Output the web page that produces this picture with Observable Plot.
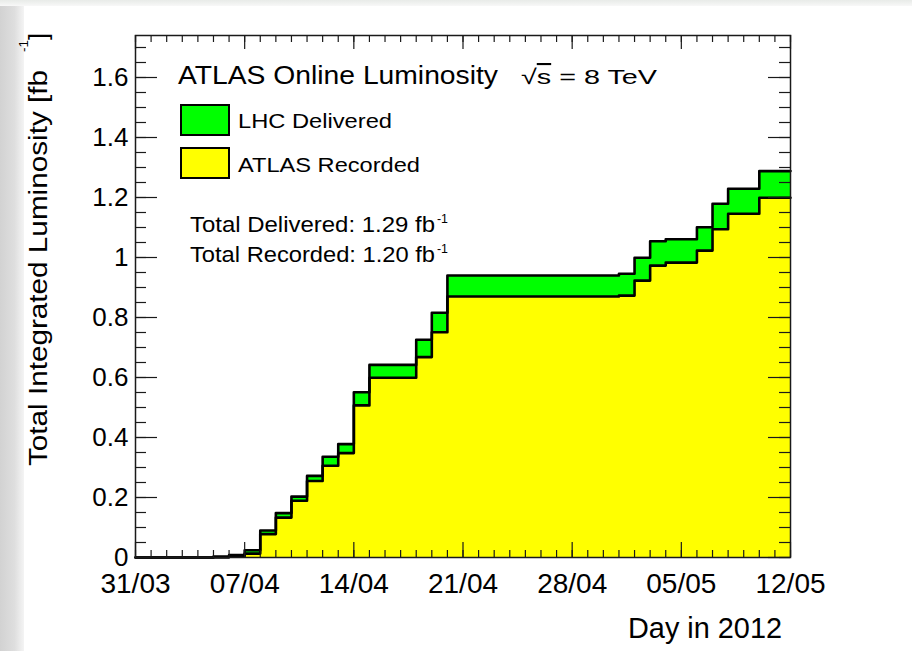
<!DOCTYPE html>
<html><head><meta charset="utf-8">
<script src="https://cdn.jsdelivr.net/npm/d3@7"></script>
<script src="https://cdn.jsdelivr.net/npm/@observablehq/plot@0.6"></script>
<style>
html,body{margin:0;padding:0;background:#fff;}
#wrap{position:relative;width:912px;height:651px;overflow:hidden;font-family:"Liberation Sans",Arial,sans-serif;}
#bgl{position:absolute;left:0;top:0;width:24px;height:651px;background:linear-gradient(to right,#d2d2d2,#dedede 60%,#f4f4f4);}
#bgt{position:absolute;left:0;top:0;width:912px;height:6px;background:linear-gradient(to bottom,#e8ebe8,#f8f8f8);}
#chart{position:absolute;left:0;top:0;}
#ann{position:absolute;left:0;top:0;}
</style></head><body>
<div id="wrap"><div id="bgl"></div><div id="bgt"></div><div id="chart"></div><svg id="ann" width="912" height="651"></svg></div>
<script>
// ---- data (one bin per day, starting 31/03/2012) ----
const days = [
  "2012-03-31","2012-04-01","2012-04-02","2012-04-03","2012-04-04","2012-04-05","2012-04-06",
  "2012-04-07","2012-04-08","2012-04-09","2012-04-10","2012-04-11","2012-04-12","2012-04-13",
  "2012-04-14","2012-04-15","2012-04-16","2012-04-17","2012-04-18","2012-04-19","2012-04-20",
  "2012-04-21","2012-04-22","2012-04-23","2012-04-24","2012-04-25","2012-04-26","2012-04-27",
  "2012-04-28","2012-04-29","2012-04-30","2012-05-01","2012-05-02","2012-05-03","2012-05-04",
  "2012-05-05","2012-05-06","2012-05-07","2012-05-08","2012-05-09","2012-05-10","2012-05-11"
];
const endDate = "2012-05-12";
const delivered = [
  0, 0, 0, 0, 0, 0.003, 0.008,
  0.024, 0.090, 0.148, 0.203, 0.272, 0.336, 0.378,
  0.551, 0.642, 0.642, 0.642, 0.726, 0.816, 0.940,
  0.940, 0.940, 0.940, 0.940, 0.940, 0.940, 0.940,
  0.940, 0.940, 0.940, 0.946, 0.999, 1.054, 1.061,
  1.061, 1.101, 1.179, 1.229, 1.229, 1.288, 1.288
];
const recorded = [
  0, 0, 0, 0, 0, 0.0005, 0.004,
  0.013, 0.078, 0.133, 0.189, 0.255, 0.306, 0.348,
  0.507, 0.599, 0.599, 0.599, 0.668, 0.751, 0.870,
  0.870, 0.870, 0.870, 0.870, 0.870, 0.870, 0.870,
  0.870, 0.870, 0.870, 0.873, 0.923, 0.973, 0.983,
  0.983, 1.023, 1.094, 1.146, 1.146, 1.199, 1.199
];
const weekTicks = ["2012-03-31","2012-04-07","2012-04-14","2012-04-21","2012-04-28","2012-05-05","2012-05-12"];
const yTicks = [0, 0.2, 0.4, 0.6, 0.8, 1, 1.2, 1.4, 1.6];
const yTickLabels = ["0","0.2","0.4","0.6","0.8","1","1.2","1.4","1.6"];
const yMax = 1.74;

// ---- build table ----
const parse = d3.utcParse("%Y-%m-%d");
const rows = days.map((d, i) => ({date: parse(d), del: delivered[i], rec: recorded[i]}));
rows.push({date: parse(endDate), del: delivered[delivered.length - 1], rec: recorded[recorded.length - 1]});
const weekDates = weekTicks.map(parse);
const dayTicks = d3.utcDay.range(parse(days[0]), d3.utcDay.offset(parse(endDate), 1));
const yMinor = d3.range(0, 1.7001, 0.05);

const W = 912, H = 651, mL = 135, mR = 122, mT = 35, mB = 94;
const fw = W - mL - mR, fh = H - mT - mB;
const ink = "#1a1a1a";

const chart = Plot.plot({
  width: W, height: H,
  marginLeft: mL, marginRight: mR, marginTop: mT, marginBottom: mB,
  style: {fontFamily: '"Liberation Sans", Arial, sans-serif', background: "transparent", color: "#000", overflow: "visible"},
  x: {type: "utc", domain: [parse(days[0]), parse(endDate)]},
  y: {domain: [0, yMax]},
  marks: [
    Plot.areaY(rows, {x: "date", y: "del", curve: "step-after", fill: "#00ff00"}),
    Plot.areaY(rows, {x: "date", y: "rec", curve: "step-after", fill: "#ffff00"}),
    Plot.lineY(rows, {x: "date", y: "del", curve: "step-after", stroke: "#000", strokeWidth: 2.6}),
    Plot.lineY(rows, {x: "date", y: "rec", curve: "step-after", stroke: "#000", strokeWidth: 2.6}),
    // inward ticks, bottom / top
    Plot.ruleX(dayTicks, {insetTop: fh - 7, stroke: ink, strokeWidth: 1.2}),
    Plot.ruleX(weekDates, {insetTop: fh - 15, stroke: ink, strokeWidth: 1.2}),
    Plot.ruleX(dayTicks, {insetBottom: fh - 7, stroke: ink, strokeWidth: 1.2}),
    Plot.ruleX(weekDates, {insetBottom: fh - 14, stroke: ink, strokeWidth: 1.2}),
    // inward ticks, left / right
    Plot.ruleY(yMinor, {insetRight: fw - 11, stroke: ink, strokeWidth: 1.2}),
    Plot.ruleY(yTicks, {insetRight: fw - 22, stroke: ink, strokeWidth: 1.2}),
    Plot.ruleY(yMinor, {insetLeft: fw - 11, stroke: ink, strokeWidth: 1.2}),
    Plot.ruleY(yTicks, {insetLeft: fw - 22, stroke: ink, strokeWidth: 1.2}),
    Plot.frame({stroke: ink, strokeWidth: 1.5}),
    Plot.axisX({ticks: weekDates, tickSize: 0, tickPadding: 16, tickFormat: d3.utcFormat("%d/%m"), fontSize: 28, label: null}),
    Plot.axisY({ticks: yTicks, tickSize: 0, tickPadding: 7, tickFormat: d => yTickLabels[yTicks.indexOf(d)], fontSize: 26, label: null})
  ]
});
document.getElementById("chart").appendChild(chart);

// ---- annotations: title, legend, totals, axis titles ----
const ann = d3.select("#ann").attr("font-family", '"Liberation Sans", Arial, sans-serif').attr("fill", "#000");
function txt(x, y, s, size, len) {
  const t = ann.append("text").attr("x", x).attr("y", y).attr("font-size", size).text(s);
  if (len) t.attr("textLength", len).attr("lengthAdjust", "spacingAndGlyphs");
  return t;
}
txt(178, 84, "ATLAS Online Luminosity", 25, 320);
const rt = ann.append("text").attr("x", 521).attr("y", 84).attr("font-size", 21)
  .attr("textLength", 136).attr("lengthAdjust", "spacingAndGlyphs");
rt.append("tspan").text("\u221A");
rt.append("tspan").attr("text-decoration", "overline").text("s");
rt.append("tspan").text(" = 8 TeV");

const legend = [
  {label: "LHC Delivered", color: "#00ff00", len: 154},
  {label: "ATLAS Recorded", color: "#ffff00", len: 182}
];
legend.forEach((l, i) => {
  ann.append("rect").attr("x", 181).attr("y", 105 + i * 43).attr("width", 48).attr("height", 30)
    .attr("fill", l.color).attr("stroke", "#000").attr("stroke-width", 2);
  txt(238, 128 + i * 44, l.label, 21, l.len);
});

const totals = [
  {label: "Total Delivered: " + d3.format(".2f")(delivered[delivered.length - 1]) + " fb", y: 232},
  {label: "Total Recorded: " + d3.format(".2f")(recorded[recorded.length - 1]) + " fb", y: 262}
];
totals.forEach(t => {
  txt(190, t.y, t.label, 22, 245);
  txt(437, t.y - 9, "-1", 12, 11);
});

// y-axis title (rotated)
const yt = ann.append("g").attr("transform", "translate(47,466) rotate(-90)");
yt.append("text").attr("x", 0).attr("y", 0).attr("font-size", 25)
  .attr("textLength", 396).attr("lengthAdjust", "spacingAndGlyphs").text("Total Integrated Luminosity [fb");
yt.append("text").attr("x", 414).attr("y", -19).attr("font-size", 13)
  .attr("textLength", 12).attr("lengthAdjust", "spacingAndGlyphs").text("-1");
yt.append("text").attr("x", 426).attr("y", 0).attr("font-size", 25).text("]");

// x-axis title
txt(628, 638, "Day in 2012", 29, 154);
</script>
</body></html>
